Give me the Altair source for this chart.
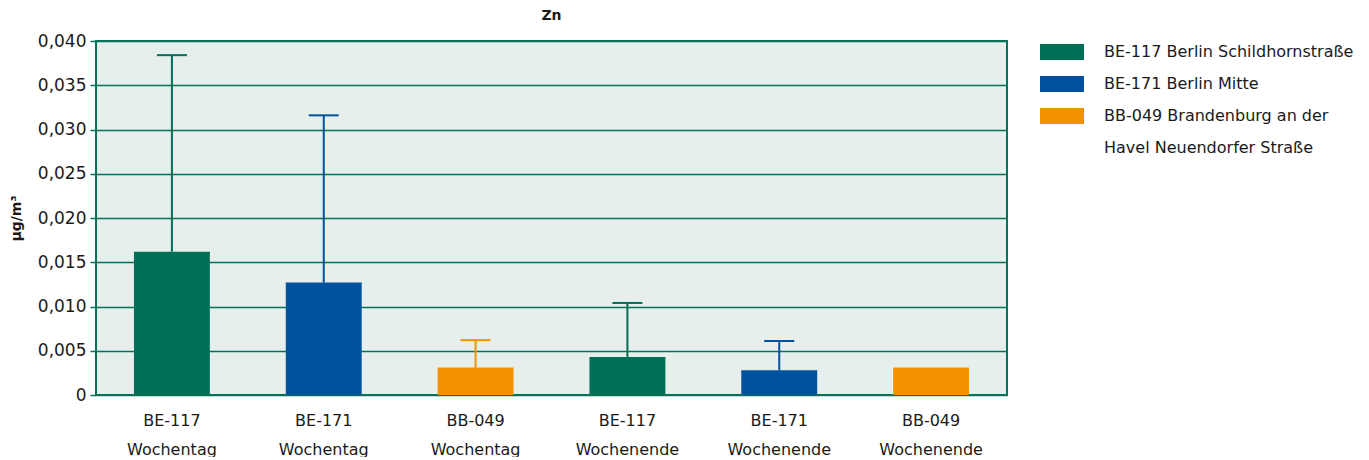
import altair as alt
import pandas as pd

categories = ["BE-117|Wochentag", "BE-171|Wochentag", "BB-049|Wochentag",
              "BE-117|Wochenende", "BE-171|Wochenende", "BB-049|Wochenende"]
stations = ["BE-117 Berlin Schildhornstraße", "BE-171 Berlin Mitte",
            "BB-049 Brandenburg an der Havel Neuendorfer Straße",
            "BE-117 Berlin Schildhornstraße", "BE-171 Berlin Mitte",
            "BB-049 Brandenburg an der Havel Neuendorfer Straße"]
values = [0.0162, 0.0127, 0.0031, 0.0043, 0.0028, 0.0031]
upper = [0.0384, 0.0316, 0.0062, 0.0104, 0.0061, None]

station_order = ["BE-117 Berlin Schildhornstraße", "BE-171 Berlin Mitte",
                 "BB-049 Brandenburg an der Havel Neuendorfer Straße"]
colors = ["#006F55", "#00519E", "#F39200"]
# the long legend label is wrapped onto a second legend row (no swatch)
legend_wrap = "Havel Neuendorfer Straße"

df = pd.DataFrame({"cat": categories, "station": stations, "value": values, "upper": upper})

FONT = "DejaVu Sans"
GREEN = "#00735A"
TXT = "#1a1a1a"

xenc = alt.X("cat:N", sort=categories, title=None,
             scale=alt.Scale(paddingInner=0.5, paddingOuter=0.25),
             axis=alt.Axis(labelExpr="split(datum.label, '|')", labelAngle=0, ticks=False,
                           domain=False, labelFontSize=16, labelColor=TXT, labelAlign="center",
                           labelBaseline="top",
                           labelPadding=17, labelLineHeight=29, labelFont=FONT))
cscale = alt.Scale(domain=station_order + [legend_wrap], range=colors + ["transparent"])
long_name = station_order[2]
cenc = alt.Color("station:N", title=None, scale=cscale,
                 legend=alt.Legend(
                     orient="none", legendX=944, legendY=-11,
                     symbolType="M-1,-0.36H1V0.36H-1Z", symbolSize=1936,
                     symbolStrokeWidth=0, symbolOpacity=1, labelFontSize=16, labelFont=FONT,
                     labelColor=TXT, labelOffset=20, rowPadding=2,
                     labelLimit=400,
                     labelExpr=f"datum.label == '{long_name}' ? 'BB-049 Brandenburg an der' : datum.label"))

bars = alt.Chart(df).mark_bar(opacity=1).encode(
    x=xenc,
    y=alt.Y("value:Q", title="µg/m³",
            scale=alt.Scale(domain=[0, 0.04], nice=False),
            axis=alt.Axis(values=[0, 0.005, 0.01, 0.015, 0.02, 0.025, 0.03, 0.035, 0.04],
                          labelExpr="datum.value == 0 ? '0' : replace(format(datum.value, '.3f'), '.', ',')",
                          gridColor=GREEN, gridWidth=1.5, tickColor=GREEN, tickSize=6,
                          tickWidth=1.5, domain=False, labelFontSize=17, labelFont=FONT,
                          labelColor=TXT, labelPadding=4,
                          titleFontSize=14, titleFont=FONT, titleFontWeight="bold",
                          titleColor=TXT, titlePadding=14)),
    color=cenc,
)

err = df.dropna(subset=["upper"])
rules = alt.Chart(err).mark_rule(strokeWidth=2, opacity=1).encode(
    x=alt.X("cat:N", sort=categories),
    y="value:Q", y2="upper:Q",
    color=alt.Color("station:N", scale=cscale),
)
caps = alt.Chart(err).mark_tick(size=30, thickness=2, orient="horizontal", opacity=1).encode(
    x=alt.X("cat:N", sort=categories),
    y="upper:Q",
    color=alt.Color("station:N", scale=cscale),
)

chart = alt.layer(rules, bars, caps).properties(
    width=911, height=354,
    title=alt.TitleParams("Zn", fontSize=14, font=FONT, fontWeight="bold", color=TXT,
                          anchor="middle", offset=7),
    autosize="none",
    padding={"left": 88, "top": 33, "right": 350, "bottom": 62},
    background="white",
).configure_view(
    fill="#E6EFEC", stroke=GREEN, strokeWidth=2
)

chart.save("out.html", embed_options={"renderer": "svg", "actions": False})
